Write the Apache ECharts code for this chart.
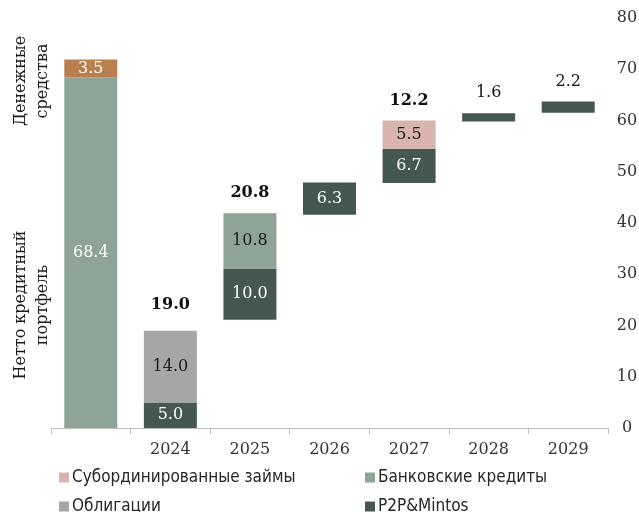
<!DOCTYPE html>
<html>
<head>
<meta charset="utf-8">
<script src="https://cdn.jsdelivr.net/npm/echarts@6/dist/echarts.min.js"></script>
<style>
  html, body { margin: 0; padding: 0; background: #fff; }
  #chart { width: 639px; height: 512px; }
</style>
</head>
<body>
<div id="chart"></div>
<script>
// categories and values
const categories = ['', '2024', '2025', '2026', '2027', '2028', '2029'];
const baseVals = [0, 0, 21.1, 41.6, 47.8, 59.8, 61.5];
const portfolio = [68.4, 0, 0, 0, 0, 0, 0];
const p2p = [0, 5.0, 10.0, 6.3, 6.7, 1.6, 2.2];
const bonds = [0, 14.0, 0, 0, 0, 0, 0];
const bank = [0, 0, 10.8, 0, 0, 0, 0];
const subLoans = [0, 0, 0, 0, 5.5, 0, 0];
const cash = [3.5, 0, 0, 0, 0, 0, 0];
const totals = ['', '19.0', '20.8', '', '12.2', '1.6', '2.2'];
const totalsBold = [false, true, true, false, true, false, false];
const yTicks = { min: 0, max: 80, interval: 10 };

const SERIF = "'DejaVu Serif', 'Liberation Serif', serif";
const NARROW = "'Liberation Sans Narrow', 'DejaVu Sans Condensed', sans-serif";

const C_DARK = '#44584f';
const C_SAGE = '#8ea496';
const C_GREY = '#a6a6a6';
const C_PINK = '#d9b3ae';
const C_BROWN = '#b8804f';

function segData(vals, labelColor) {
  return vals.map((v) => ({
    value: v,
    label: { show: v >= 3, color: labelColor }
  }));
}

function segSeries(name, vals, color, labelColor) {
  return {
    name: name,
    type: 'bar',
    stack: 'w',
    barWidth: 53,
    itemStyle: { color: color },
    label: {
      show: true,
      position: 'inside',
      fontFamily: SERIF,
      fontSize: 16,
      formatter: (p) => p.value.toFixed(1)
    },
    data: segData(vals, labelColor)
  };
}

const chart = echarts.init(document.getElementById('chart'), null, { renderer: 'canvas' });

const series = [
  {
    name: 'base',
    type: 'bar',
    stack: 'w',
    barWidth: 53,
    itemStyle: { color: 'transparent' },
    silent: true,
    data: baseVals
  },
  segSeries('Нетто кредитный портфель', portfolio, C_SAGE, '#ffffff'),
  segSeries('P2P&Mintos', p2p, C_DARK, '#ffffff'),
  segSeries('Облигации', bonds, C_GREY, '#1a1a1a'),
  segSeries('Банковские кредиты', bank, C_SAGE, '#1a1a1a'),
  segSeries('Субординированные займы', subLoans, C_PINK, '#1a1a1a'),
  segSeries('Денежные средства', cash, C_BROWN, '#ffffff'),
  {
    name: 'total',
    type: 'bar',
    stack: 'w',
    barWidth: 53,
    silent: true,
    itemStyle: { color: 'transparent' },
    data: totals.map((t, i) => ({
      value: 0,
      label: {
        show: t !== '',
        position: 'top',
        distance: i === 1 ? 18 : 12,
        formatter: t,
        fontFamily: SERIF,
        fontSize: 16,
        fontWeight: totalsBold[i] ? 'bold' : 'normal',
        color: '#111111'
      }
    }))
  }
];

function legendAt(name, left, top) {
  return {
    left: left,
    top: top,
    data: [name],
    icon: 'rect',
    itemWidth: 10,
    itemHeight: 10,
    itemGap: 0,
    padding: 0,
    selectedMode: false,
    textStyle: { fontFamily: NARROW, fontSize: 17, color: '#262626', padding: [0, 0, 0, -2] }
  };
}

const option = {
  backgroundColor: '#ffffff',
  animation: false,
  grid: { left: 51, right: 31, top: 18, bottom: 84, outerBoundsMode: 'none', containLabel: false },
  legend: [
    legendAt('Субординированные займы', 59, 469),
    legendAt('Облигации', 59, 498),
    legendAt('Банковские кредиты', 365, 469),
    legendAt('P2P&Mintos', 365, 498)
  ],
  xAxis: {
    type: 'category',
    data: categories,
    axisLine: { lineStyle: { color: '#bfbfbf', width: 1 } },
    axisTick: { show: true, length: 6, lineStyle: { color: '#bfbfbf' } },
    axisLabel: { fontFamily: SERIF, fontSize: 16, color: '#333333', margin: 14 }
  },
  yAxis: {
    type: 'value',
    position: 'right',
    min: yTicks.min,
    max: yTicks.max,
    interval: yTicks.interval,
    axisLine: { show: false },
    axisTick: { show: false },
    splitLine: { show: false },
    axisLabel: { fontFamily: SERIF, fontSize: 16, color: '#333333', margin: 19, align: 'center' }
  },
  graphic: [
    {
      type: 'text',
      x: 32,
      y: 81,
      rotation: Math.PI / 2,
      style: {
        text: 'Денежные\nсредства',
        fontFamily: SERIF,
        fontSize: 16,
        lineHeight: 22,
        fill: '#1a1a1a',
        align: 'center',
        verticalAlign: 'middle'
      }
    },
    {
      type: 'text',
      x: 32,
      y: 305,
      rotation: Math.PI / 2,
      style: {
        text: 'Нетто кредитный\nпортфель',
        fontFamily: SERIF,
        fontSize: 16,
        lineHeight: 22,
        fill: '#1a1a1a',
        align: 'center',
        verticalAlign: 'middle'
      }
    }
  ],
  series: series
};

chart.setOption(option);
</script>
</body>
</html>
